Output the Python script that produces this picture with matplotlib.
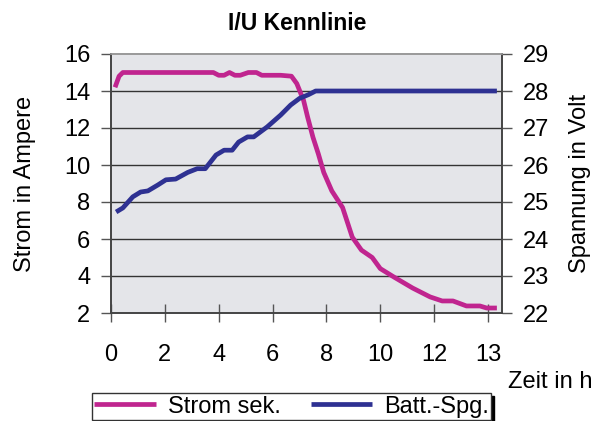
import matplotlib
matplotlib.use("Agg")
import matplotlib.pyplot as plt

plt.rcParams["font.family"] = ["Liberation Sans", "DejaVu Sans"]

# ===== DATA =====
# x is the position on the (category-like) time axis, in hours as drawn
strom_x = [0.15, 0.3, 0.44, 1.0, 2.0, 3.0, 3.8, 4.0, 4.2, 4.4, 4.6, 4.8, 5.1,
           5.4, 5.6, 5.9, 6.3, 6.7, 6.9, 7.15, 7.3, 7.5, 7.7, 7.9, 8.2, 8.6,
           8.96, 9.3, 9.7, 10.0, 10.5, 11.2, 11.85, 12.3, 12.7, 13.2, 13.7,
           13.95, 14.33]
strom = [14.2, 14.8, 15.0, 15.0, 15.0, 15.0, 15.0, 14.85, 14.85, 15.0, 14.85,
         14.85, 15.0, 15.0, 14.85, 14.85, 14.85, 14.8, 14.4, 13.5, 12.6, 11.5,
         10.6, 9.6, 8.6, 7.7, 6.1, 5.4, 5.0, 4.4, 3.95, 3.35, 2.87, 2.65, 2.65,
         2.38, 2.38, 2.27, 2.27]

spg_x = [0.19, 0.44, 0.81, 1.1, 1.37, 1.74, 2.04, 2.4, 2.85, 3.2, 3.5, 3.9,
         4.2, 4.5, 4.74, 5.07, 5.3, 5.8, 6.3, 6.67, 7.0, 7.33, 7.6, 10.0,
         14.33]
spg = [24.73, 24.84, 25.14, 25.27, 25.3, 25.46, 25.6, 25.62, 25.8, 25.9,
       25.9, 26.27, 26.4, 26.4, 26.62, 26.76, 26.76, 27.03, 27.35, 27.62,
       27.8, 27.9, 28.0, 28.0, 28.0]

xtick_pos = [0, 2, 4, 6, 8, 10, 12, 14]
xtick_labels = ["0", "2", "4", "6", "8", "10", "12", "13"]

# ===== PLOT =====
fig = plt.figure(figsize=(6.09, 4.21), dpi=100)
ax = fig.add_axes([111 / 609, 1 - 313 / 421, (502 - 111) / 609, (313 - 54) / 421])
ax.set_facecolor("#e4e5e9")

line1, = ax.plot(strom_x, strom, color="#c0258f", lw=3.4,
                 solid_capstyle="butt", label="Strom sek.", zorder=3)
ax.set_xlim(0, 14.52)
ax.set_ylim(2, 16)
ax.set_yticks(range(2, 17, 2))
ax.set_xticks(xtick_pos)
ax.set_xticklabels(xtick_labels)
for y in range(4, 16, 2):
    ax.axhline(y, color="#333333", lw=1, zorder=1)

ax2 = ax.twinx()
line2, = ax2.plot(spg_x, spg, color="#2e3192", lw=3.4,
                  solid_capstyle="butt", label="Batt.-Spg.", zorder=3)
ax2.set_ylim(22, 29)
ax2.set_yticks(range(22, 30))

for a in (ax, ax2):
    for s in a.spines.values():
        s.set_color("#444444")
        s.set_linewidth(1.2)
    a.spines["top"].set_color("#999999")

ax.tick_params(axis="x", direction="inout", length=13, width=1,
               color="#555555", labelsize=17, pad=16)
ax.tick_params(axis="y", direction="out", length=7, width=1,
               color="#555555", labelsize=17, pad=8)
ax2.tick_params(axis="y", direction="out", length=7, width=1,
                color="#555555", labelsize=17, pad=8)

ax.set_ylabel("Strom in Ampere", fontsize=17, labelpad=20)
ax2.set_ylabel("Spannung in Volt", fontsize=17, labelpad=14)
ax.set_title("I/U Kennlinie", fontsize=16.5, fontweight="bold", pad=17,
             x=0.475)

fig.text(550 / 609, 1 - 382 / 421, "Zeit in h", fontsize=17,
         ha="center", va="center")

fig.legend(handles=[line1, line2], loc="lower left",
           bbox_to_anchor=(92 / 609, 1 / 421, (491 - 92) / 609, 0.07),
           mode="expand", ncol=2, fontsize=17, frameon=True, fancybox=False,
           shadow={"color": "black", "alpha": 1}, edgecolor="#333333",
           handlelength=2.6, borderpad=0.1, columnspacing=0.8,
           handletextpad=0.5, borderaxespad=0)

fig.savefig("out.png", dpi=100)
